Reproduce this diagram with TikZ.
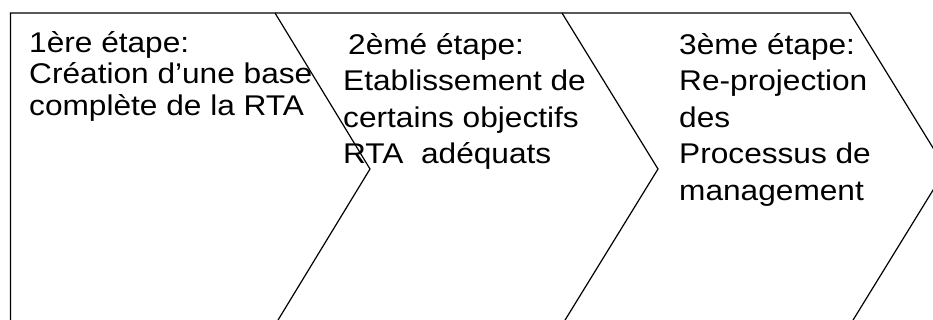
\documentclass[tikz,border=0pt]{standalone}
\usepackage{fontspec}
\setmainfont{Liberation Sans}[FakeStretch=1.11]
\begin{document}
\begin{tikzpicture}[x=1pt,y=-1pt,
  chev/.style={draw=black,line width=1.2pt,line join=miter},
  steptext/.style={anchor=north west,inner sep=0pt,align=left,text=black},
  tight/.style={font={\fontsize{28.5}{31.5}\selectfont}},
  loose/.style={font={\fontsize{28.5}{36.5}\selectfont}}]
\useasboundingbox (0,0) rectangle (933,320);
\clip (0,0) rectangle (933,320);
% corner points of the three chevrons (pixel units, y downward)
\coordinate (a0) at (10.5,13);
\coordinate (a1) at (275,13);
\coordinate (a2) at (370,169);
\coordinate (a3) at (275,325);
\coordinate (a4) at (10.5,325);
\coordinate (b1) at (562,13);
\coordinate (b2) at (658,169);
\coordinate (b3) at (562,325);
\coordinate (c1) at (850,13);
\coordinate (c2) at (946,169);
\coordinate (c3) at (850,325);
% chevrons
\draw[chev] (a4) -- (a0) -- (a1) -- (a2) -- (a3);
\draw[chev] (a1) -- (b1) -- (b2) -- (b3);
\draw[chev] (b1) -- (c1) -- (c2) -- (c3);
% step texts (a strut fixes the first baseline 28pt under the top)
\node[steptext,tight] (t1) at (29,24)
  {\rule{0pt}{28pt}1ère étape:\\Création d’une base\\complète de la RTA};
\node[steptext,loose] (t2) at (343,26)
  {\rule{0pt}{28pt}\hspace*{5pt}2èmé étape:\\Etablissement de\\certains objectifs\\RTA\ \ adéquats};
\node[steptext,loose] (t3) at (679,26)
  {\rule{0pt}{28pt}3ème étape:\\Re-projection\\des\\Processus de\\management};
\end{tikzpicture}
\end{document}
